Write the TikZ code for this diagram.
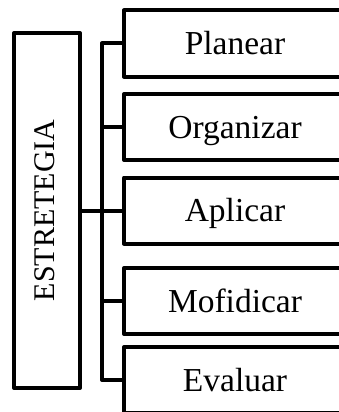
\documentclass[tikz,border=0pt]{standalone}
\usepackage{fontspec}
\setmainfont{Liberation Serif}
\usetikzlibrary{positioning}
\begin{document}
\begin{tikzpicture}[node distance=17.5pt, line width=4pt, line join=round,
  every node/.style={font=\fontsize{33.5pt}{38pt}\selectfont, draw=black, rectangle, outer sep=0pt},
  step box/.style={minimum width=222pt, minimum height=66pt, text height=25pt, text depth=3pt}]
\useasboundingbox (0,0) rectangle (339pt,-412pt);
\node[step box] (plan) at (235pt,-43.5pt) {Planear};
\node[step box, below=of plan] (org) {Organizar};
\node[step box, below=of org] (apl) {Aplicar};
\node[step box, below=24.5pt of apl] (mod) {Mofidicar};
\node[step box, below=13pt of mod] (eval) {Evaluar};
\node[minimum width=66pt, minimum height=355pt, left=44pt of apl,
  font=\fontsize{30pt}{36pt}\selectfont] (strat) {\rotatebox{90}{ESTRETEGIA\strut}};
\coordinate[left=22pt of plan.west] (bus);
\draw (plan.west) -- (bus) |- (eval.west);
\draw (org.west) -- (org.west -| bus);
\draw (strat.east) -- (apl.west);
\draw (mod.west) -- (mod.west -| bus);
\end{tikzpicture}
\end{document}
